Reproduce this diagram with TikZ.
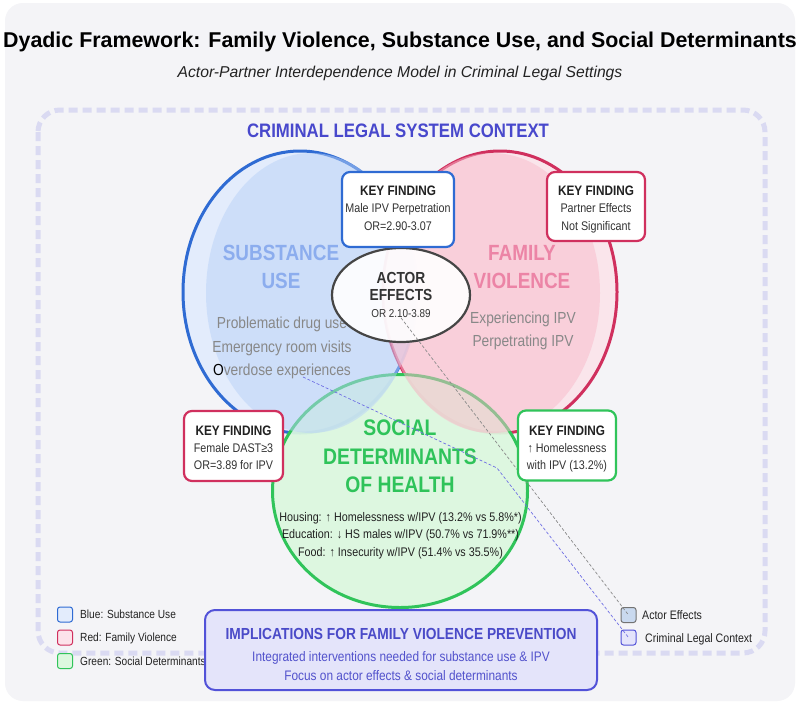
\documentclass[tikz,border=0pt]{standalone}
\usepackage{fontspec}
\setmainfont[FakeStretch=0.86]{Liberation Sans}
\newfontfamily\titlefont{Liberation Sans}
\usetikzlibrary{shapes.geometric}
\definecolor{bgc}{HTML}{F4F4F7}
\definecolor{framec}{HTML}{DADAF2}
\definecolor{clsc}{HTML}{4848CC}
\definecolor{bstroke}{HTML}{2F6BD3}
\definecolor{bfill}{HTML}{E3ECFC}
\definecolor{binner}{HTML}{B9D2F8}
\definecolor{btext}{HTML}{8CADEE}
\definecolor{rstroke}{HTML}{D0305E}
\definecolor{rfill}{HTML}{FCE3EA}
\definecolor{rinner}{HTML}{F9BACB}
\definecolor{rtext}{HTML}{EC84A6}
\definecolor{gstroke}{HTML}{30C45A}
\definecolor{gfill}{HTML}{DCF8DF}
\definecolor{gtext}{HTML}{2FC35A}
\definecolor{graytext}{HTML}{888888}
\definecolor{darktext}{HTML}{222222}
\definecolor{bodytext}{HTML}{333333}
\definecolor{implfill}{HTML}{E4E4FA}
\definecolor{implstroke}{HTML}{5252D8}
\definecolor{impltext}{HTML}{4A4AC8}
\definecolor{implbody}{HTML}{5252CC}
\definecolor{legact}{HTML}{C9D9EF}
\definecolor{legcls}{HTML}{E4E4FB}
\definecolor{conngray}{HTML}{8A8A8A}
\definecolor{connblue}{HTML}{7070E4}
\newcommand\myfs[1]{\fontsize{#1}{#1}\selectfont}
\tikzset{
  txt/.style={inner sep=0pt, anchor=base},
  kfbox/.style={draw=#1, line width=2.2pt, fill=white, rounded corners=8pt, inner sep=0pt},
  kftitle/.style={txt, font=\myfs{13.7}\bfseries, text=darktext},
  kfbody/.style={txt, font=\myfs{12.5}, text=bodytext},
  legbox/.style={draw=#1, line width=1pt, rounded corners=2.5pt, minimum width=15pt, minimum height=15pt, inner sep=0pt},
  legtxt/.style={inner sep=0pt, anchor=base west, text=darktext},
  conn/.style={line width=0.7pt, dash pattern=on 3pt off 2pt},
}
\begin{document}
\begin{tikzpicture}[x=1pt, y=-1pt]
\useasboundingbox (0,0) rectangle (800,705);
\fill[white] (0,0) rectangle (800,705);
\fill[bgc, rounded corners=18pt] (5,3) rectangle (795,701);
% frame
\draw[framec, line width=5pt, dash pattern=on 9pt off 5pt, rounded corners=22pt] (38,110) rectangle (765,653);
% titles
\node[txt, font=\titlefont\myfs{21.4}\bfseries, text=black] (title) at (400,47) {Dyadic Framework: Family Violence, Substance Use, and Social Determinants};
\node[txt, font=\titlefont\myfs{15.7}\itshape, text=darktext] (subtitle) at (400,77) {Actor-Partner Interdependence Model in Criminal Legal Settings};
\node[txt, font=\myfs{19.5}\bfseries, text=clsc] (cls) at (398,137) {CRIMINAL LEGAL SYSTEM CONTEXT};
% circles
\node[ellipse, draw=bstroke, line width=3pt, fill=bfill, minimum width=234pt, minimum height=282pt, inner sep=0pt] (blue) at (300,292) {};
\node[ellipse, draw=rstroke, line width=3pt, fill=rfill, fill opacity=0.85, minimum width=234pt, minimum height=282pt, inner sep=0pt] (red) at (500,292) {};
\node[ellipse, draw=gstroke, line width=3pt, fill=gfill, fill opacity=0.93, minimum width=255pt, minimum height=233pt, inner sep=0pt] (green) at (400,491) {};
\node[ellipse, fill=binner, fill opacity=0.5, minimum width=210pt, minimum height=280pt, inner sep=0pt] (blueinner) at (311,293) {};
\node[ellipse, fill=rinner, fill opacity=0.5, minimum width=216pt, minimum height=280pt, inner sep=0pt] (redinner) at (492,293) {};
% circle texts
\node[txt, font=\myfs{22}\bfseries, text=btext] (su1) at (281,260) {SUBSTANCE};
\node[txt, font=\myfs{22}\bfseries, text=btext] (su2) at (281,288) {USE};
\node[txt, font=\myfs{16}, text=graytext] (su3) at (282,328) {Problematic drug use};
\node[txt, font=\myfs{16}, text=graytext] (su4) at (282,352) {Emergency room visits};
\node[txt, font=\myfs{16}, text=graytext] (su5) at (282,375) {{\color{black}O}verdose experiences};
\node[txt, font=\myfs{22}\bfseries, text=rtext] (fv1) at (522,260) {FAMILY};
\node[txt, font=\myfs{22}\bfseries, text=rtext] (fv2) at (522,288) {VIOLENCE};
\node[txt, font=\myfs{16}, text=graytext] (fv3) at (523,323) {Experiencing IPV};
\node[txt, font=\myfs{16}, text=graytext] (fv4) at (523,346) {Perpetrating IPV};
\node[txt, font=\myfs{22.5}\bfseries, text=gtext] (sd1) at (400,435) {SOCIAL};
\node[txt, font=\myfs{22.5}\bfseries, text=gtext] (sd2) at (400,464) {DETERMINANTS};
\node[txt, font=\myfs{22.5}\bfseries, text=gtext] (sd3) at (400,492) {OF HEALTH};
\node[txt, font=\myfs{12.5}, text=darktext] (sd4) at (400.5,521) {Housing: ↑ Homelessness w/IPV (13.2\% vs 5.8\%*)};
\node[txt, font=\myfs{12.5}, text=darktext] (sd5) at (400.5,538.5) {Education: ↓ HS males w/IPV (50.7\% vs 71.9\%**)};
\node[txt, font=\myfs{12.5}, text=darktext] (sd6) at (400.5,556) {Food: ↑ Insecurity w/IPV (51.4\% vs 35.5\%)};
% actor effects
\node[ellipse, draw=black!73, line width=2.2pt, fill=white, fill opacity=0.9, minimum width=138pt, minimum height=94pt, inner sep=0pt] (actor) at (401,295) {};
\node[txt, font=\myfs{16}\bfseries, text=bodytext] (ac1) at (401,283) {ACTOR};
\node[txt, font=\myfs{16}\bfseries, text=bodytext] (ac2) at (401,300) {EFFECTS};
\node[txt, font=\myfs{11.5}, text=bodytext] (aor) at (401,317.5) {OR 2.10-3.89};
% legends (drawn before connectors end there)
\node[legbox=black!55, fill=legact] (lgact) at (628.5,615) {};
\node[legbox=implstroke, fill=legcls] (lgcls) at (628.5,637.5) {};
\node[legtxt, font=\myfs{12.3}] (lgactt) at (642,619.5) {Actor Effects};
\node[legtxt, font=\myfs{12.3}] (lgclst) at (645,642) {Criminal Legal Context};
% connectors
\coordinate (bstart) at (303,377);
\coordinate (bbend) at (497,468);
\draw[conn, connblue] (bstart) -- (bbend) -- (lgcls.center);
\draw[conn, conngray] (aor.south) -- (lgact.center);
% key findings
\node[kfbox=bstroke, minimum width=112pt, minimum height=75pt] (kf1) at (398,209.5) {};
\node[kftitle] (kf1a) at (398,195) {KEY FINDING};
\node[kfbody] (kf1b) at (398,212.5) {Male IPV Perpetration};
\node[kfbody] (kf1c) at (398,230.5) {OR=2.90-3.07};
\node[kfbox=rstroke, minimum width=98pt, minimum height=69pt] (kf2) at (596,206.5) {};
\node[kftitle] (kf2a) at (596,195) {KEY FINDING};
\node[kfbody] (kf2b) at (596,212.5) {Partner Effects};
\node[kfbody] (kf2c) at (596,230.5) {Not Significant};
\node[kfbox=rstroke, minimum width=99pt, minimum height=70pt] (kf3) at (233.5,446) {};
\node[kftitle] (kf3a) at (233.5,435) {KEY FINDING};
\node[kfbody] (kf3b) at (233.5,452.5) {Female DAST≥3};
\node[kfbody] (kf3c) at (233.5,469.5) {OR=3.89 for IPV};
\node[kfbox=gstroke, minimum width=98pt, minimum height=70pt] (kf4) at (567,445.5) {};
\node[kftitle] (kf4a) at (567,435) {KEY FINDING};
\node[kfbody] (kf4b) at (567,452.5) {↑ Homelessness};
\node[kfbody] (kf4c) at (567,469.5) {with IPV (13.2\%)};
% left legend
\node[legbox=bstroke, fill=bfill] (lgb) at (65,614.5) {};
\node[legbox=rstroke, fill=rfill] (lgr) at (65,637.5) {};
\node[legbox=gstroke, fill=gfill] (lgg) at (65,661) {};
\node[legtxt, font=\myfs{11.8}] (lgbt) at (80,618.5) {Blue: Substance Use};
\node[legtxt, font=\myfs{11.8}] (lgrt) at (80,641.5) {Red: Family Violence};
\node[legtxt, font=\myfs{11.8}] (lggt) at (80,665) {Green: Social Determinants};
% implications
\node[draw=implstroke, line width=2pt, fill=implfill, rounded corners=10pt, minimum width=392pt, minimum height=80pt, inner sep=0pt] (impl) at (401,650) {};
\node[txt, font=\myfs{16}\bfseries, text=impltext] (impl1) at (401,639) {IMPLICATIONS FOR FAMILY VIOLENCE PREVENTION};
\node[txt, font=\myfs{13.8}, text=implbody] (impl2) at (401,661.5) {Integrated interventions needed for substance use \& IPV};
\node[txt, font=\myfs{13.8}, text=implbody] (impl3) at (401,680.5) {Focus on actor effects \& social determinants};
\end{tikzpicture}
\end{document}
